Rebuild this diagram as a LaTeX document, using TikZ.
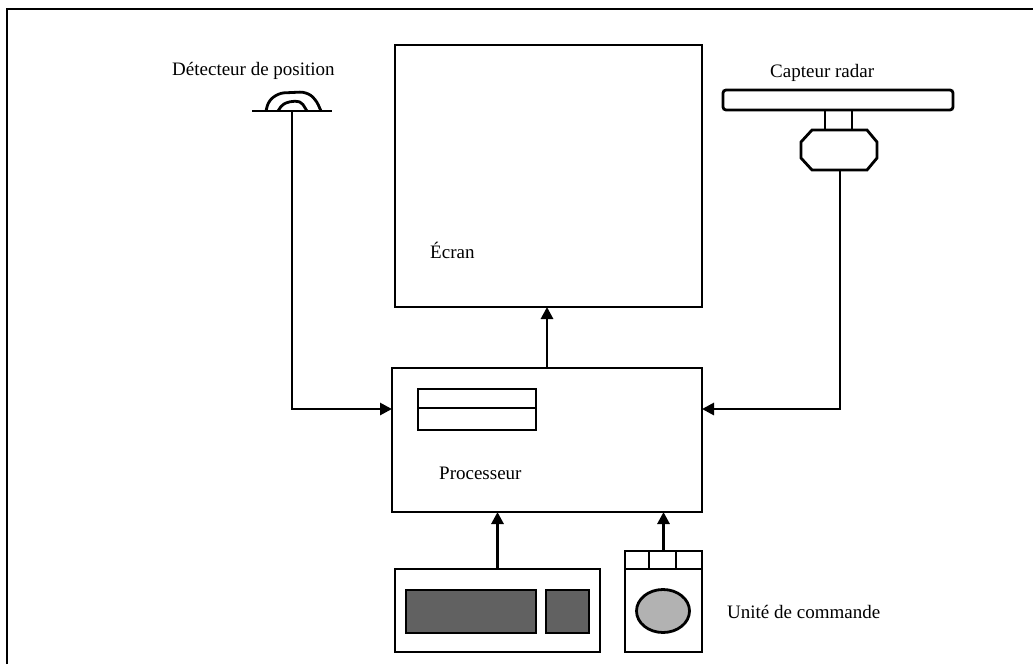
\documentclass[tikz,border=0pt]{standalone}
\usepackage{fontspec}
\setmainfont{Liberation Serif}
\usetikzlibrary{arrows.meta,shapes.geometric}
\begin{document}
\begin{tikzpicture}[x=1pt,y=-1pt,
  lw/.style={line width=2.8pt},
  box/.style={draw,lw,anchor=north west,inner sep=0pt,outer sep=0pt},
  arr/.style={lw,-{Triangle[length=12pt,width=12pt]}},
  lbl/.style={anchor=west,inner sep=0pt,font=\fontsize{19}{22}\selectfont}]
\useasboundingbox (0,0) rectangle (1033,664);
% frame
\draw[line width=2.5pt] (7,664) -- (7,9) -- (1033,9);
% screen
\node[box,minimum width=307pt,minimum height=262pt] (ecran) at (395,45) {};
\node[lbl] (ecranl) at (430,250) {Écran};
% processor
\node[box,minimum width=310pt,minimum height=144pt] (proc) at (392,368) {};
\node[box,minimum width=118pt,minimum height=41pt] (inner) at (418,389) {};
\draw[lw] (418,408) -- (536,408);
\node[lbl] (procl) at (439,473) {Processeur};
\coordinate (pl) at (392,409);
\coordinate (pr) at (702,409);
% position detector
\draw[lw] (252,111) -- (332,111);
\draw[lw,rounded corners=3pt] (266,111) -- (268,103) -- (273,97) -- (281,93) -- (303,92) -- (311,95) -- (317,102) -- (321,111);
\draw[lw,rounded corners=2pt] (278,111) -- (282,105) -- (288,102) -- (297,101) -- (302,103) -- (307,111);
\coordinate (det) at (292,111);
\node[lbl] (detl) at (172,71) {Détecteur de position};
% radar
\node[box,rounded corners=3pt,minimum width=230pt,minimum height=20pt] (bar) at (723,90) {};
\draw[lw] (825,110) -- (825,130);
\draw[lw] (852,110) -- (852,130);
\draw[lw] (812,130) -- (867,130) -- (877,142) -- (877,158) -- (867,170) -- (812,170) -- (801,158) -- (801,142) -- cycle;
\coordinate (octb) at (840,170);
\node[lbl] (radl) at (770,73) {Capteur radar};
% keyboard
\node[box,minimum width=205pt,minimum height=83pt] (kb) at (395,569) {};
\node[box,fill=black!62,minimum width=130pt,minimum height=43pt] (keys) at (406,590) {};
\node[box,fill=black!62,minimum width=43pt,minimum height=43pt] (pad) at (546,590) {};
% control unit
\node[box,minimum width=77pt,minimum height=101pt] (ctl) at (625,551) {};
\draw[lw] (625,569) -- (702,569);
\draw[lw] (649,551) -- (649,569);
\draw[lw] (676,551) -- (676,569);
\node[draw,lw,ellipse,fill=black!30,minimum width=53pt,minimum height=43pt,inner sep=0pt] (ball) at (663,611) {};
\node[lbl] (ctll) at (727,612) {Unité de commande};
% connectors
\draw[arr] (proc.north) -- (proc.north |- ecran.south);
\draw[arr] (det) |- (pl);
\draw[arr] (octb) |- (pr);
\draw[arr] (kb.north) -- (kb.north |- proc.south);
\draw[arr] (ctl.north) -- (ctl.north |- proc.south);
\end{tikzpicture}
\end{document}
